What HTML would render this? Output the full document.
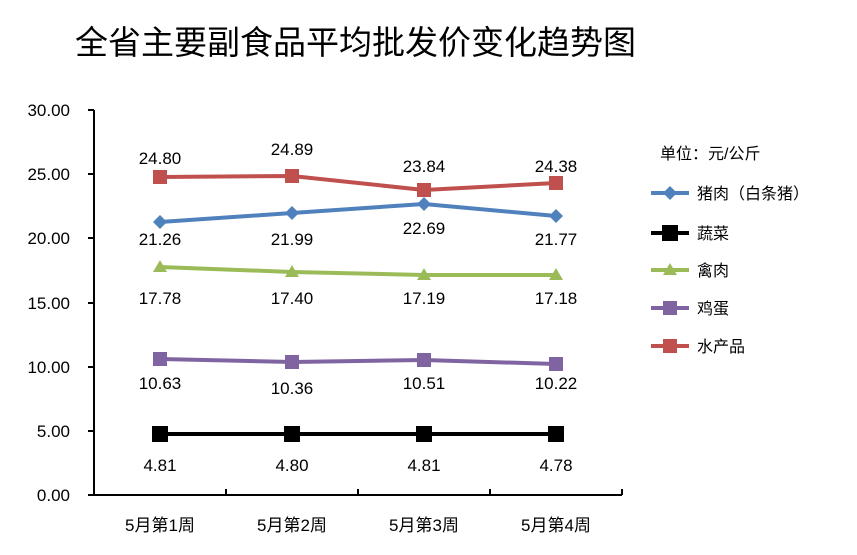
<!DOCTYPE html><html><head><meta charset="utf-8"><style>body{margin:0;background:#fff}svg{display:block}text{font-family:"Liberation Sans","Noto Sans CJK SC",sans-serif}</style></head><body>
<svg width="857" height="555" xmlns="http://www.w3.org/2000/svg">
<text x="75" y="54" font-size="33" fill="#000">全省主要副食品平均批发价变化趋势图</text>
<g stroke="#000" stroke-width="2" fill="none">
<line x1="94" y1="110" x2="94" y2="495"/><line x1="94" y1="495" x2="622" y2="495"/>
<line x1="88" y1="110" x2="94" y2="110"/><line x1="88" y1="174" x2="94" y2="174"/><line x1="88" y1="238" x2="94" y2="238"/><line x1="88" y1="303" x2="94" y2="303"/><line x1="88" y1="367" x2="94" y2="367"/><line x1="88" y1="431" x2="94" y2="431"/><line x1="88" y1="495" x2="94" y2="495"/>
<line x1="226" y1="489" x2="226" y2="495"/><line x1="358" y1="489" x2="358" y2="495"/><line x1="490" y1="489" x2="490" y2="495"/><line x1="622" y1="489" x2="622" y2="495"/>
</g>
<g font-size="17" text-anchor="end" fill="#000">
<text x="70" y="116">30.00</text><text x="70" y="180">25.00</text><text x="70" y="244">20.00</text><text x="70" y="309">15.00</text><text x="70" y="373">10.00</text><text x="70" y="437">5.00</text><text x="70" y="501">0.00</text></g>
<g font-size="17" text-anchor="middle" fill="#000">
<text x="160" y="531">5月第1周</text><text x="292" y="531">5月第2周</text><text x="424" y="531">5月第3周</text><text x="556" y="531">5月第4周</text></g>
<polyline points="160,177 292,176 424,190 556,183" stroke="#c0504d" stroke-width="4" fill="none"/>
<polyline points="160,222 292,213 424,204 556,216" stroke="#4f81bd" stroke-width="4" fill="none"/>
<polyline points="160,267 292,272 424,275 556,275" stroke="#9bbb59" stroke-width="4" fill="none"/>
<polyline points="160,359 292,362 424,360 556,364" stroke="#8064a2" stroke-width="4" fill="none"/>
<polyline points="160,434 292,434 424,434 556,434" stroke="#000" stroke-width="4" fill="none"/>
<g fill="#c0504d"><rect x="153" y="170" width="14" height="14"/><rect x="285" y="169" width="14" height="14"/><rect x="417" y="183" width="14" height="14"/><rect x="549" y="176" width="14" height="14"/></g>
<g fill="#4f81bd"><path d="M160 215l7 7-7 7-7-7z"/><path d="M292 206l7 7-7 7-7-7z"/><path d="M424 197l7 7-7 7-7-7z"/><path d="M556 209l7 7-7 7-7-7z"/></g>
<g fill="#9bbb59"><path d="M160 260l7 12h-14z"/><path d="M292 265l7 12h-14z"/><path d="M424 268l7 12h-14z"/><path d="M556 268l7 12h-14z"/></g>
<g fill="#8064a2"><rect x="153" y="352" width="14" height="14"/><rect x="285" y="355" width="14" height="14"/><rect x="417" y="353" width="14" height="14"/><rect x="549" y="357" width="14" height="14"/></g>
<g fill="#000"><rect x="152" y="426" width="16" height="16"/><rect x="284" y="426" width="16" height="16"/><rect x="416" y="426" width="16" height="16"/><rect x="548" y="426" width="16" height="16"/></g>
<g font-size="17" text-anchor="middle" fill="#000">
<text x="160" y="164">24.80</text><text x="292" y="155">24.89</text><text x="424" y="172">23.84</text><text x="556" y="172">24.38</text>
<text x="160" y="245">21.26</text><text x="292" y="245">21.99</text><text x="424" y="234">22.69</text><text x="556" y="245">21.77</text>
<text x="160" y="304">17.78</text><text x="292" y="304">17.40</text><text x="424" y="304">17.19</text><text x="556" y="304">17.18</text>
<text x="160" y="389">10.63</text><text x="292" y="394">10.36</text><text x="424" y="389">10.51</text><text x="556" y="389">10.22</text>
<text x="160" y="471">4.81</text><text x="292" y="471">4.80</text><text x="424" y="471">4.81</text><text x="556" y="471">4.78</text></g>
<g font-size="16" fill="#000">
<text x="660" y="159">单位：元/公斤</text>
<line x1="651" y1="193" x2="689" y2="193" stroke="#4f81bd" stroke-width="4"/><path d="M670 186l7 7-7 7-7-7z" fill="#4f81bd"/><text x="697" y="199">猪肉（白条猪）</text>
<line x1="651" y1="233" x2="689" y2="233" stroke="#000" stroke-width="4"/><rect x="662" y="225" width="16" height="16"/><text x="697" y="239">蔬菜</text>
<line x1="651" y1="270" x2="689" y2="270" stroke="#9bbb59" stroke-width="4"/><path d="M670 263l7 12h-14z" fill="#9bbb59"/><text x="697" y="276">禽肉</text>
<line x1="651" y1="308" x2="689" y2="308" stroke="#8064a2" stroke-width="4"/><rect x="663" y="301" width="14" height="14" fill="#8064a2"/><text x="697" y="314">鸡蛋</text>
<line x1="651" y1="346" x2="689" y2="346" stroke="#c0504d" stroke-width="4"/><rect x="663" y="339" width="14" height="14" fill="#c0504d"/><text x="697" y="352">水产品</text>
</g>
</svg></body></html>
